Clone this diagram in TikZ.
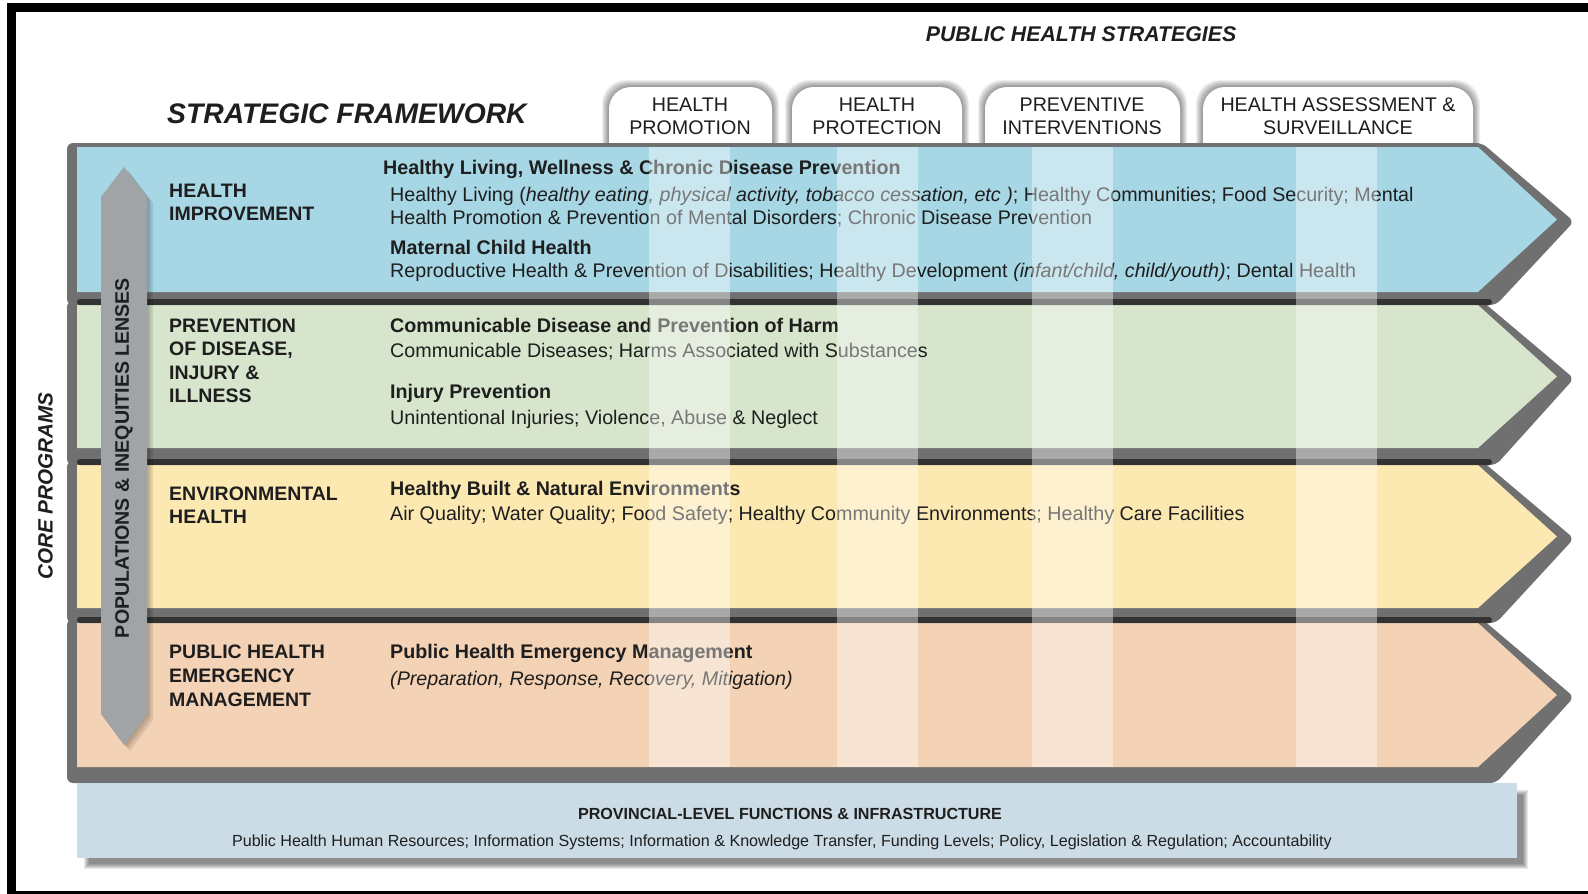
\documentclass[tikz,border=0pt]{standalone}
\usepackage{fontspec}
\setmainfont{Liberation Sans}
\usetikzlibrary{calc}
\newcommand\myfs[1]{\fontsize{#1pt}{#1pt}\selectfont}
\definecolor{bandblue}{HTML}{A7D6E4}
\definecolor{bandgreen}{HTML}{D6E5CB}
\definecolor{bandyellow}{HTML}{FCE9B2}
\definecolor{bandpeach}{HTML}{F3D2B6}
\definecolor{infra}{HTML}{CBDCE6}
\definecolor{rim}{HTML}{707070}
\definecolor{lens}{HTML}{A0A4A7}
\definecolor{ink}{HTML}{1E1E1E}
\begin{document}
\begin{tikzpicture}[x=1pt,y=-1pt,
  lab/.style={anchor=base west, inner sep=0pt, font=\myfs{19.5}\bfseries, text=ink},
  hd/.style={anchor=base west, inner sep=0pt, font=\myfs{19.7}\bfseries, text=ink},
  txt/.style={anchor=base west, inner sep=0pt, font=\myfs{19.7}, text=ink},
  tabtxt/.style={anchor=base, inner sep=0pt, font=\myfs{19.7}, text=ink},
  stripe/.style={white, opacity=0.4}]
\useasboundingbox (0,0) rectangle (1588,894);
\fill[white] (0,0) rectangle (1588,894);

% frame
\draw[line width=9pt] (11.5,894) -- (11.5,7.5) -- (1588,7.5);
\draw[line width=3pt] (7,892.5) -- (1588,892.5);

% titles
\node[anchor=base, inner sep=0pt, font=\myfs{21.3}\bfseries\itshape, text=ink] (strat) at (1081,41) {PUBLIC HEALTH STRATEGIES};
\node[anchor=base west, inner sep=0pt, font=\myfs{28.3}\bfseries\itshape, text=ink] (frame) at (167,123.6) {STRATEGIC FRAMEWORK};

% tabs
\foreach \a/\b in {609/772, 792/962, 985/1180, 1203/1473} {
  \foreach \e in {7,6,5,4,3,2,1}
    \fill[black, opacity=0.065, rounded corners=24pt] (\a-\e,160) -- (\a-\e,87-\e) -- (\b+\e,87-\e) -- (\b+\e,160);
  \fill[white, rounded corners=22pt] (\a,160) -- (\a,87) -- (\b,87) -- (\b,160);
}
\foreach \cx/\la/\lb [count=\i] in {690/HEALTH/PROMOTION, 877/HEALTH/PROTECTION, 1082/PREVENTIVE/INTERVENTIONS, 1338/{HEALTH ASSESSMENT \&}/SURVEILLANCE} {
  \node[tabtxt] (tabA\i) at (\cx,111.5) {\la};
  \node[tabtxt] (tabB\i) at (\cx,134) {\lb};
}

% band backings
\foreach \T/\B/\N in {147/292/305, 305/448/465, 465/608/623, 623/767/783}
  \fill[rim, rounded corners=6pt] (67,\T-4) -- (1482,\T-4) -- (1574,{(\T+\B)/2+2}) -- (1496,\N) -- (67,\N) -- cycle;
% band fills
\foreach \T/\B/\col in {147/292/bandblue, 305/448/bandgreen, 465/608/bandyellow, 623/767/bandpeach}
  \fill[\col] (77,\T) -- (1478,\T) -- (1557,{(\T+\B)/2}) -- (1478,\B) -- (77,\B) -- cycle;
% dark shadow lines between bands
\foreach \T in {305,465,623}
  \fill[black, opacity=0.55, rounded corners=3pt] (77,\T-6) rectangle (1492,\T);

% bottom box
\foreach \s in {0,1,2,3,4,5}
  \fill[black, opacity=0.09] (84+\s,790+\s) rectangle (1528-\s,869-\s);
\fill[infra] (77,783) rectangle (1517,858);
\node[anchor=base, inner sep=0pt, font=\myfs{16.1}\bfseries, text=ink] (infraTitle) at (790,819) {PROVINCIAL-LEVEL FUNCTIONS \& INFRASTRUCTURE};
\node[anchor=base, inner sep=0pt, font=\myfs{16.1}, text=ink] (infraLine) at (782,846) {Public Health Human Resources; Information Systems; Information \& Knowledge Transfer, Funding Levels; Policy, Legislation \& Regulation; Accountability};

% band labels
\node[lab] (l1a) at (169,197) {HEALTH};
\node[lab] (l1b) at (169,220) {IMPROVEMENT};
\node[lab] (l2a) at (169,332) {PREVENTION};
\node[lab] (l2b) at (169,355) {OF DISEASE,};
\node[lab] (l2c) at (169,379) {INJURY \&};
\node[lab] (l2d) at (169,402) {ILLNESS};
\node[lab] (l3a) at (169,500) {ENVIRONMENTAL};
\node[lab] (l3b) at (169,523) {HEALTH};
\node[lab] (l4a) at (169,658) {PUBLIC HEALTH};
\node[lab] (l4b) at (169,682) {EMERGENCY};
\node[lab] (l4c) at (169,706) {MANAGEMENT};

% content
\node[hd] (c1) at (383,174) {Healthy Living, Wellness \& Chronic Disease Prevention};
\node[txt] (c2) at (390,201) {Healthy Living (\textit{healthy eating, physical activity, tobacco cessation, etc )}; Healthy Communities; Food Security; Mental};
\node[txt] (c3) at (390,224) {Health Promotion \& Prevention of Mental Disorders; Chronic Disease Prevention};
\node[hd] (c4) at (390,254) {Maternal Child Health};
\node[txt] (c5) at (390,277) {Reproductive Health \& Prevention of Disabilities; Healthy Development \textit{(infant/child, child/youth)}; Dental Health};
\node[hd] (c6) at (390,332) {Communicable Disease and Prevention of Harm};
\node[txt] (c7) at (390,357) {Communicable Diseases; Harms Associated with Substances};
\node[hd] (c8) at (390,398) {Injury Prevention};
\node[txt] (c9) at (390,424) {Unintentional Injuries; Violence, Abuse \& Neglect};
\node[hd] (c10) at (390,495) {Healthy Built \& Natural Environments};
\node[txt] (c11) at (390,520) {Air Quality; Water Quality; Food Safety; Healthy Community Environments; Healthy Care Facilities};
\node[hd] (c12) at (390,658) {Public Health Emergency Management};
\node[txt] (c13) at (390,685) {\textit{(Preparation, Response, Recovery, Mitigation)}};

% light stripes
\foreach \sx in {649, 837, 1032, 1296}
  \fill[stripe] (\sx,147) rectangle (\sx+81,767);

% vertical lens arrow
\foreach \d in {2,4,6}
  \fill[black, opacity=0.09] (124+\d,167+\d) -- (147+\d,197+\d) -- (147+\d,714+\d) -- (124+\d,745+\d) -- (101+\d,714+\d) -- (101+\d,197+\d) -- cycle;
\fill[lens] (124,167) -- (147,197) -- (147,714) -- (124,745) -- (101,714) -- (101,197) -- cycle;
\node[rotate=90, inner sep=0pt, font=\myfs{19.6}\bfseries, text=ink] (lenstxt) at (124,458) {POPULATIONS \& INEQUITIES LENSES};

% core programs
\node[rotate=90, inner sep=0pt, font=\myfs{20.7}\bfseries\itshape, text=ink] (core) at (45.5,486) {CORE PROGRAMS};
\end{tikzpicture}
\end{document}
